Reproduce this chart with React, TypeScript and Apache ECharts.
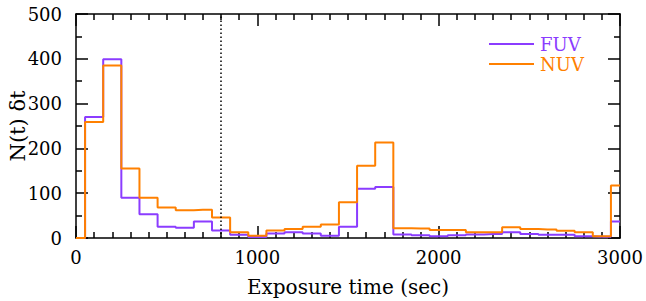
import React, { useEffect, useRef } from "react";
import * as echarts from "echarts";

const binCenters = [0, 100, 200, 300, 400, 500, 600, 700, 800, 900, 1000, 1100, 1200, 1300, 1400, 1500, 1600, 1700, 1800, 1900, 2000, 2100, 2200, 2300, 2400, 2500, 2600, 2700, 2800, 2900, 3000];
const fuvCounts = [0, 270, 399, 90, 53, 25, 23, 37, 17, 7, 2, 10, 13, 10, 5, 25, 110, 114, 8, 6, 4, 6, 8, 9, 13, 9, 7, 7, 4, 3, 37];
const nuvCounts = [0, 259, 385, 155, 90, 68, 62, 63, 46, 13, 5, 17, 20, 25, 30, 80, 161, 213, 22, 21, 18, 18, 13, 13, 24, 20, 19, 16, 13, 4, 117];
const xTicks = { min: 0, max: 3000, interval: 1000 };
const yTicks = { min: 0, max: 500, interval: 100 };
const cutoffTime = 800;

const FONT = "DejaVu Serif";
const PURPLE = "#8B3CFF";
const ORANGE = "#FF8000";

export default function App() {
  const ref = useRef<HTMLDivElement>(null);
  useEffect(() => {
    if (!ref.current) return;
    const chart = echarts.init(ref.current, null, { renderer: "svg" });
    const axisLine = { show: true, onZero: false, lineStyle: { color: "#000", width: 1.5 } };
    const tickStyle = { color: "#000", width: 1.5 };
    const xCommon = {
      type: "value" as const,
      min: xTicks.min,
      max: xTicks.max,
      interval: xTicks.interval,
      axisLine,
      axisTick: { show: true, inside: true, length: 12, lineStyle: tickStyle },
      minorTick: { show: true, splitNumber: 10, length: 6, lineStyle: tickStyle },
      splitLine: { show: false },
      minorSplitLine: { show: false },
    };
    const yCommon = {
      type: "value" as const,
      min: yTicks.min,
      max: yTicks.max,
      interval: yTicks.interval,
      axisLine,
      axisTick: { show: true, inside: true, length: 12, lineStyle: tickStyle },
      minorTick: { show: true, splitNumber: 2, length: 6, lineStyle: tickStyle },
      splitLine: { show: false },
      minorSplitLine: { show: false },
    };
    const plain = (v: number) => String(v);
    chart.setOption({
      animation: false,
      backgroundColor: "#fff",
      grid: { left: 76, right: 26, top: 14, bottom: 63, containLabel: false, outerBoundsMode: "none" },
      legend: {
        orient: "vertical",
        left: 484,
        top: 29,
        itemWidth: 45,
        itemHeight: 2,
        itemGap: 0,
        icon: "rect",
        textStyle: { fontFamily: FONT, fontSize: 18, lineHeight: 20, padding: [0, 0, 0, 1] },
        data: [
          { name: "FUV", textStyle: { color: PURPLE } },
          { name: "NUV", textStyle: { color: ORANGE } },
        ],
      },
      xAxis: [
        {
          ...xCommon,
          position: "bottom",
          name: "Exposure time (sec)",
          nameLocation: "middle",
          nameGap: 39,
          nameMoveOverlap: false,
          nameTextStyle: { fontFamily: FONT, fontSize: 20, color: "#000" },
          axisLabel: { show: true, fontFamily: FONT, fontSize: 18, color: "#000", margin: 10, formatter: plain },
        },
        { ...xCommon, position: "top", axisLabel: { show: false } },
      ],
      yAxis: [
        {
          ...yCommon,
          position: "left",
          name: "N(t) δt",
          nameLocation: "middle",
          nameGap: 48,
          nameMoveOverlap: false,
          nameRotate: 90,
          nameTextStyle: { fontFamily: FONT, fontSize: 21, color: "#000" },
          axisLabel: { show: true, fontFamily: FONT, fontSize: 18, color: "#000", margin: 14, formatter: plain },
        },
        { ...yCommon, position: "right", axisLabel: { show: false } },
      ],
      series: [
        {
          name: "FUV",
          type: "line",
          step: "middle",
          showSymbol: false,
          symbol: "none",
          data: binCenters.map((x, i) => [x, fuvCounts[i]]),
          lineStyle: { color: PURPLE, width: 2 },
          itemStyle: { color: PURPLE },
          markLine: {
            silent: true,
            symbol: "none",
            label: { show: false },
            lineStyle: { color: "#000", type: [1.5, 2.5], width: 1.5 },
            data: [{ xAxis: cutoffTime }],
          },
        },
        {
          name: "NUV",
          type: "line",
          step: "middle",
          showSymbol: false,
          symbol: "none",
          data: binCenters.map((x, i) => [x, nuvCounts[i]]),
          lineStyle: { color: ORANGE, width: 2 },
          itemStyle: { color: ORANGE },
        },
      ],
    });
    return () => chart.dispose();
  }, []);
  return (
    <div
      ref={ref}
      style={{ position: "fixed", left: 0, top: 0, width: 646, height: 301, background: "#fff" }}
    />
  );
}
